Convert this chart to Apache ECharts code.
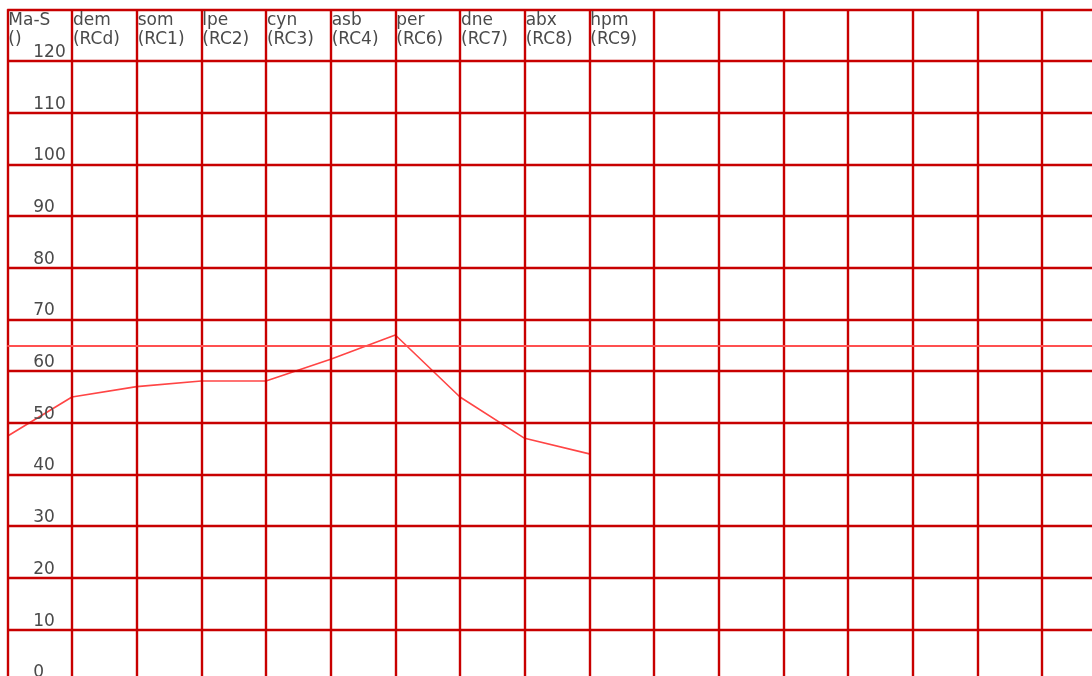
<!DOCTYPE html>
<html>
<head>
<meta charset="utf-8">
<script src="https://cdn.jsdelivr.net/npm/echarts@6/dist/echarts.min.js"></script>
<style>
html,body{margin:0;padding:0;background:#fff;}
#chart{width:1092px;height:676px;}
</style>
</head>
<body>
<div id="chart"></div>
<script>
var categories = ["Ma-S\n()", "dem\n(RCd)", "som\n(RC1)", "lpe\n(RC2)", "cyn\n(RC3)", "asb\n(RC4)", "per\n(RC6)", "dne\n(RC7)", "abx\n(RC8)", "hpm\n(RC9)", "", "", "", "", "", "", "", ""];
var values = [47.4, 55.0, 57.0, 58.1, 58.1, 62.3, 67.0, 55.0, 47.0, 44.0];
var referenceValue = 65;
var yMin = 0, yMax = 130, yStep = 10;

var chart = echarts.init(document.getElementById('chart'), null, {renderer: 'canvas'});
var gridColor = '#c80000';
var textStyle = {color: '#4a4a4a', fontFamily: 'DejaVu Sans', fontSize: 17};
chart.setOption({
  animation: false,
  backgroundColor: '#fff',
  grid: {left: 7.3, top: 9.3, width: 1099.4, height: 672, containLabel: false, outerBoundsMode: 'none'},
  xAxis: {
    type: 'category',
    position: 'top',
    data: categories,
    boundaryGap: false,
    z: 5,
    axisLine: {show: false},
    axisTick: {show: false},
    axisLabel: Object.assign({
      inside: true, interval: 0, align: 'left', verticalAlign: 'top',
      margin: 2, lineHeight: 19, padding: [0, 0, 0, 1]
    }, textStyle),
    splitLine: {show: true, lineStyle: {color: gridColor, width: 2.4}}
  },
  yAxis: {
    type: 'value',
    min: yMin, max: yMax, interval: yStep,
    z: 5,
    axisLine: {show: false},
    axisTick: {show: false},
    axisLabel: Object.assign({
      inside: true, align: 'left', verticalAlign: 'bottom', margin: 26,
      formatter: function (v) { return v >= yMax ? '' : String(v); }
    }, textStyle),
    splitLine: {show: true, lineStyle: {color: gridColor, width: 2.4}}
  },
  series: [{
    type: 'line',
    data: values,
    symbol: 'none',
    lineStyle: {color: '#ff4545', width: 1.6},
    z: 2,
    markLine: {
      silent: true,
      symbol: ['none', 'none'],
      label: {show: false},
      lineStyle: {color: '#ff5050', width: 2, type: 'solid'},
      data: [{yAxis: referenceValue}]
    }
  }]
});
</script>
</body>
</html>
